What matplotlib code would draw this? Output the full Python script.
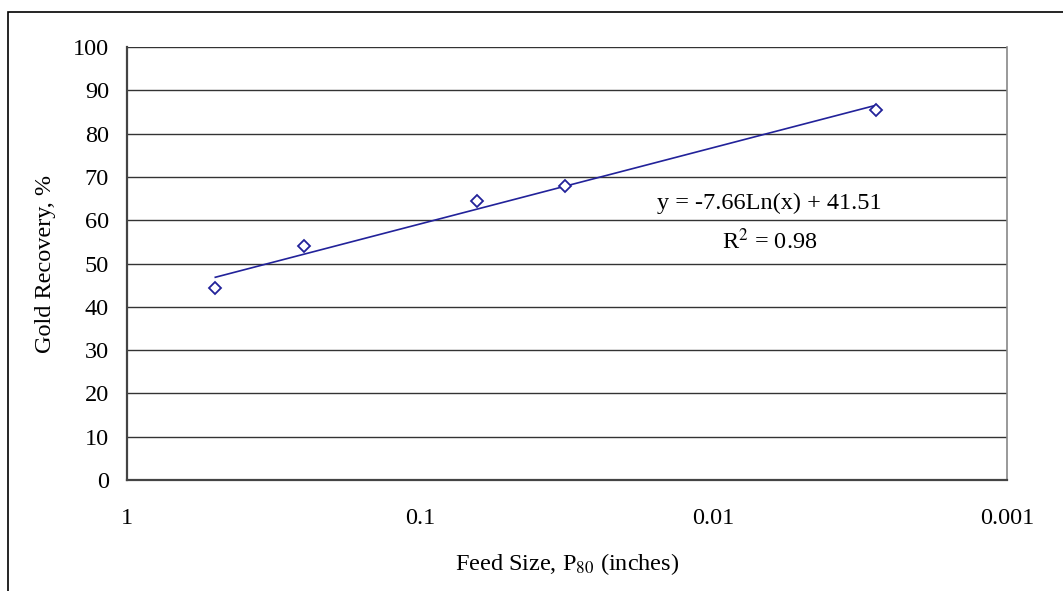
import numpy as np
import matplotlib
matplotlib.use("Agg")
import matplotlib.pyplot as plt
from matplotlib.patches import Rectangle

plt.rcParams["font.family"] = "Liberation Serif"
plt.rcParams["mathtext.fontset"] = "stix"

# Feed size P80 (inches) and gold recovery (%)
feed_size = [0.5, 0.25, 0.064, 0.032, 0.0028]
recovery = [44.3, 54.0, 64.4, 67.9, 85.4]

# log trendline given on the chart
slope = -7.66
intercept = 41.51
r2 = 0.98

x_ticks = [1, 0.1, 0.01, 0.001]
x_tick_labels = ["1", "0.1", "0.01", "0.001"]
y_ticks = list(range(0, 101, 10))

navy = "#22229a"
fs = 17.5

fig = plt.figure(figsize=(10.63, 5.91), dpi=100)
W, H = 1063, 591
ax = fig.add_axes([127 / W, 1 - 480 / H, (1007 - 127) / W, (480 - 47) / H])

# outer chart border (cropped on right and bottom)
fig.patches.append(Rectangle((8 / W, -0.05), 1.1, 1 - 12 / H + 0.05,
                             transform=fig.transFigure, fill=False,
                             edgecolor="black", linewidth=1.2))

# trendline
xt = np.logspace(np.log10(max(feed_size)), np.log10(min(feed_size)), 200)
ax.plot(xt, slope * np.log(xt) + intercept, color=navy, linewidth=1.2)

ax.plot(feed_size, recovery, linestyle="none", marker="D", markersize=6,
        markerfacecolor="white", markeredgecolor=navy, markeredgewidth=1.3)

ax.set_xscale("log")
ax.set_xlim(1, 0.001)
ax.set_ylim(0, 100)
ax.set_xticks(x_ticks)
ax.set_xticklabels(x_tick_labels)
ax.minorticks_off()
ax.set_yticks(y_ticks)
ax.yaxis.grid(True, color="#333333", linewidth=1.0)
ax.set_axisbelow(True)
ax.tick_params(axis="x", length=0, pad=20, labelsize=fs)
ax.tick_params(axis="y", length=0, pad=13, labelsize=fs)

for side in ["left", "bottom"]:
    ax.spines[side].set_color("#444444")
    ax.spines[side].set_linewidth(1.6)
ax.spines["right"].set_color("#888888")
ax.spines["right"].set_linewidth(1.2)
ax.spines["top"].set_visible(False)

ax.set_xlabel("Feed Size, P$_{80}$ (inches)", fontsize=fs, labelpad=16)
ax.set_ylabel("Gold Recovery, %", fontsize=fs, labelpad=12)

ax.text(0.730, 0.639, "y = %.2fLn(x) + %.2f" % (slope, intercept),
        transform=ax.transAxes, ha="center", va="center", fontsize=fs)
ax.text(0.730, 0.552, "R$^2$ = %.2f" % r2,
        transform=ax.transAxes, ha="center", va="center", fontsize=fs)

fig.savefig("out.png", dpi=100)
